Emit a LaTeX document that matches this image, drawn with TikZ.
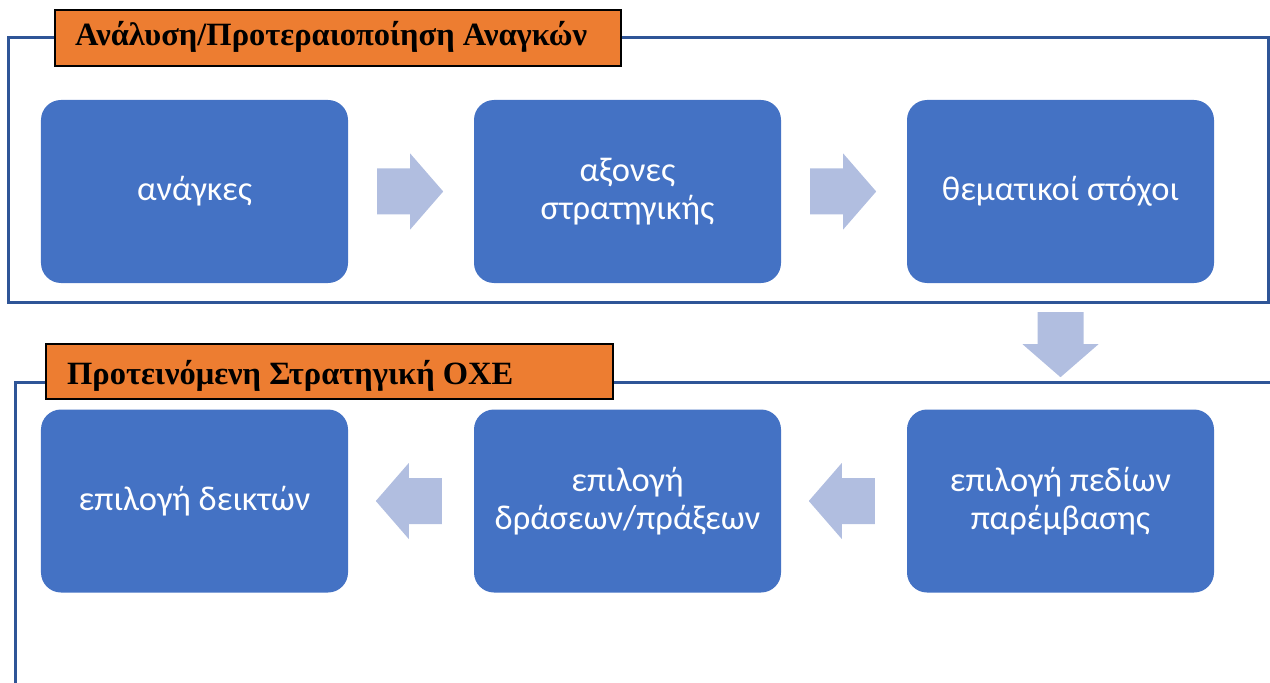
\documentclass[tikz,border=0pt]{standalone}
\usepackage{fontspec}
\setmainfont{Liberation Serif}
\newfontfamily\boxfont{Carlito}
\definecolor{boxblue}{HTML}{4472C4}
\definecolor{arrowfill}{HTML}{B1BEE0}
\definecolor{labelorange}{HTML}{ED7D31}
\definecolor{frameblue}{HTML}{2F5597}
\tikzset{
  stagebox/.style={fill=boxblue, rounded corners=20bp, minimum width=307bp, minimum height=183bp,
    inner sep=0pt, text=white, align=center, font=\boxfont\fontsize{34.5bp}{38bp}\selectfont},
  framebox/.style={draw=frameblue, line width=3bp},
  grouplabel/.style={fill=labelorange, draw=black, line width=2bp, anchor=north west, inner xsep=0pt, inner ysep=0pt},
  labeltext/.style={anchor=west, inner sep=0pt, font=\bfseries\fontsize{32.5bp}{36bp}\selectfont, text=black},
  blockarrow/.style={fill=arrowfill}
}
\begin{document}
\begin{tikzpicture}[x=1bp,y=-1bp]
\useasboundingbox (0,0) rectangle (1270,683);
% frames
\draw[framebox] (8,38) rectangle (1268,302);
\coordinate (f2a) at (1270,382);
\coordinate (f2b) at (15,382);
\coordinate (f2c) at (15,683);
\draw[framebox] (f2a) -- (f2b) -- (f2c);
% labels
\node[grouplabel, minimum width=566bp, minimum height=56bp] (lab1) at (54,9) {};
\node[labeltext] (lab1t) at (75,37) {Ανάλυση/Προτεραιοποίηση Αναγκών};
\node[grouplabel, minimum width=567bp, minimum height=55bp] (lab2) at (45,343) {};
\node[labeltext] (lab2t) at (67,376) {Προτεινόμενη Στρατηγική ΟΧΕ};
% row 1
\node[stagebox] (b1) at (194.5,191.5) {ανάγκες};
\node[stagebox] (b2) at (627.5,191.5) {αξονες\\στρατηγικής};
\node[stagebox] (b3) at (1060.5,191.5) {θεματικοί στόχοι};
% row 2
\node[stagebox] (b6) at (194.5,501) {επιλογή δεικτών};
\node[stagebox] (b5) at (627.5,501) {επιλογή\\δράσεων/πράξεων};
\node[stagebox] (b4) at (1060.5,501) {επιλογή πεδίων\\παρέμβασης};
% arrows
\fill[blockarrow, shift={(b1.east)}, xshift=29bp] (0,-23) -- (33,-23) -- (33,-38) -- (66,0) -- (33,38) -- (33,23) -- (0,23) -- cycle;
\fill[blockarrow, shift={(b2.east)}, xshift=29bp] (0,-23) -- (33,-23) -- (33,-38) -- (66,0) -- (33,38) -- (33,23) -- (0,23) -- cycle;
\fill[blockarrow, shift={(b4.west)}, xshift=-32bp] (0,-23) -- (-33,-23) -- (-33,-38) -- (-66,0) -- (-33,38) -- (-33,23) -- (0,23) -- cycle;
\fill[blockarrow, shift={(b5.west)}, xshift=-32bp] (0,-23) -- (-33,-23) -- (-33,-38) -- (-66,0) -- (-33,38) -- (-33,23) -- (0,23) -- cycle;
\fill[blockarrow, shift={(b3.south)}, yshift=-29bp] (-23,0) -- (-23,32) -- (-38,32) -- (0,65) -- (38,32) -- (23,32) -- (23,0) -- cycle;
\end{tikzpicture}
\end{document}
